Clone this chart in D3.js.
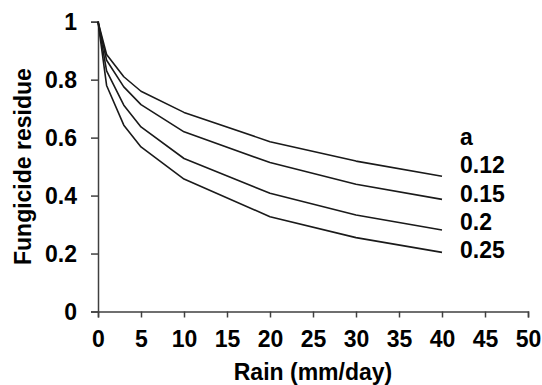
<!DOCTYPE html>
<html>
<head>
<meta charset="utf-8">
<script src="https://cdn.jsdelivr.net/npm/d3@7"></script>
<style>
  html, body { margin: 0; padding: 0; background: #fff; }
  svg { display: block; font-family: "Liberation Sans", Arial, sans-serif; font-weight: bold; }
</style>
</head>
<body>
<div id="chart"></div>
<script>
// Rain (mm/day) sample points
const rain = [0, 1, 3, 5, 10, 20, 30, 40];
// fungicide residue for each wash-off coefficient a
const seriesNames = ['0.12', '0.15', '0.2', '0.25'];
const residue012 = [1, 0.887, 0.81, 0.76, 0.687, 0.586, 0.519, 0.467];
const residue015 = [1, 0.867, 0.775, 0.714, 0.62, 0.514, 0.439, 0.387];
const residue020 = [1, 0.83, 0.712, 0.637, 0.528, 0.408, 0.333, 0.281];
const residue025 = [1, 0.78, 0.643, 0.568, 0.457, 0.327, 0.255, 0.204];
const xTicks = [0, 5, 10, 15, 20, 25, 30, 35, 40, 45, 50];
const yTicks = [0, 0.2, 0.4, 0.6, 0.8, 1];

const series = [residue012, residue015, residue020, residue025].map((vals, i) => ({
  name: seriesNames[i],
  values: vals.map((v, j) => ({ x: rain[j], y: v }))
}));

const width = 542, height = 385;
const margin = { top: 21.7, right: 14, bottom: 73.5, left: 98 };
const fontSize = '23px';

const svg = d3.select('#chart').append('svg')
  .attr('width', width)
  .attr('height', height);

const x = d3.scaleLinear().domain([0, 50]).range([margin.left, width - margin.right]);
const y = d3.scaleLinear().domain([0, 1]).range([height - margin.bottom, margin.top]);

const axisColor = '#404040';

const xAxis = svg.append('g')
  .attr('transform', `translate(0,${y(0)})`)
  .call(d3.axisBottom(x).tickValues(xTicks).tickFormat(d3.format('d')).tickSizeOuter(0).tickSize(6).tickPadding(13));
const yAxis = svg.append('g')
  .attr('transform', `translate(${x(0)},0)`)
  .call(d3.axisLeft(y).tickValues(yTicks).tickFormat((d) => (d === 0 || d === 1 ? d3.format('d')(d) : d3.format('.1f')(d))).tickSizeOuter(0).tickSize(7).tickPadding(14));

[xAxis, yAxis].forEach((g) => {
  g.select('.domain').attr('stroke', axisColor).attr('stroke-width', 1.5);
  g.selectAll('.tick line').attr('stroke', axisColor).attr('stroke-width', 1.5);
  g.selectAll('.tick text')
    .attr('fill', '#000')
    .style('font-size', fontSize)
    .style('font-weight', 'bold')
    .style('font-family', '"Liberation Sans", Arial, sans-serif');
});
yAxis.selectAll('.tick text').attr('dy', '0.36em');

const line = d3.line().x((d) => x(d.x)).y((d) => y(d.y));

svg.append('g')
  .selectAll('path')
  .data(series)
  .join('path')
  .attr('d', (d) => line(d.values))
  .attr('fill', 'none')
  .attr('stroke', '#1a1a1a')
  .attr('stroke-width', 1.6)
  .attr('stroke-linejoin', 'round');

// legend-style labels to the right of the curves
const labelX = 460;
const labels = svg.append('g').style('font-size', fontSize);
labels.append('text').attr('x', labelX).attr('y', 145).text('a');
labels.selectAll('text.val')
  .data(seriesNames)
  .join('text')
  .attr('class', 'val')
  .attr('x', labelX)
  .attr('y', (d, i) => 173.3 + i * 28.3)
  .text((d) => d);

svg.append('text')
  .attr('x', (x(0) + x(50)) / 2)
  .attr('y', 380)
  .attr('text-anchor', 'middle')
  .style('font-size', fontSize)
  .text('Rain (mm/day)');

svg.append('text')
  .attr('transform', `translate(31,${(y(0) + y(1)) / 2}) rotate(-90)`)
  .attr('text-anchor', 'middle')
  .style('font-size', fontSize)
  .text('Fungicide residue');
</script>
</body>
</html>
